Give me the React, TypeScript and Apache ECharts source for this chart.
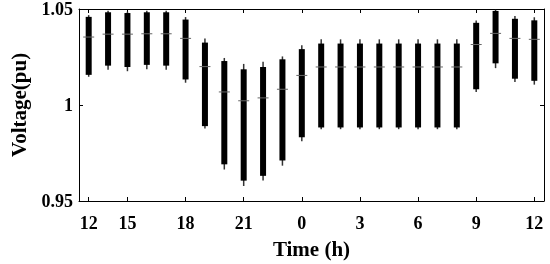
import { useEffect, useRef } from 'react';
import * as echarts from 'echarts';

// 24 time slots; only some slots carry a tick label (as in the reference)
const categories = ['12', '', '15', '', '', '18', '', '', '21', '', '', '0', '', '', '3', '', '', '6', '', '', '9', '', '', '12'];

const whiskerHigh = [1.0468, 1.0491, 1.0486, 1.0491, 1.0491, 1.0458, 1.0346, 1.0245, 1.0214, 1.0225, 1.0253, 1.0311, 1.0342, 1.0342, 1.0342, 1.0342, 1.0342, 1.0342, 1.0342, 1.0342, 1.044, 1.0496, 1.0464, 1.0457];
const boxHigh = [1.0459, 1.0483, 1.0479, 1.0483, 1.0483, 1.0445, 1.0325, 1.0229, 1.0186, 1.0198, 1.0238, 1.0291, 1.032, 1.032, 1.032, 1.032, 1.032, 1.032, 1.032, 1.032, 1.0428, 1.049, 1.0449, 1.0441];
const median = [1.0354, 1.0369, 1.0369, 1.0371, 1.0371, 1.0347, 1.02, 1.0068, 1.0022, 1.0037, 1.0082, 1.0154, 1.0198, 1.0198, 1.0198, 1.0198, 1.0198, 1.0198, 1.0198, 1.0198, 1.0315, 1.0373, 1.0347, 1.0342];
const boxLow = [1.0157, 1.0205, 1.0198, 1.0209, 1.0205, 1.0133, 0.989, 0.9691, 0.9606, 0.9631, 0.9711, 0.9832, 0.9883, 0.9883, 0.9883, 0.9883, 0.9883, 0.9883, 0.9883, 0.9883, 1.0082, 1.0217, 1.0137, 1.0126];
const whiskerLow = [1.0147, 1.0184, 1.0176, 1.0186, 1.0184, 1.0116, 0.9877, 0.9664, 0.9578, 0.9607, 0.9684, 0.9811, 0.9874, 0.9874, 0.9874, 0.9874, 0.9874, 0.9874, 0.9874, 0.9874, 1.0068, 1.0192, 1.012, 1.0106];

const FONT = "'Liberation Serif', 'Times New Roman', serif";

export default function App() {
  const ref = useRef<HTMLDivElement>(null);
  useEffect(() => {
    const chart = echarts.init(ref.current!, null, { renderer: 'svg' });
    const data = categories.map((_, i) => [i, whiskerLow[i], boxLow[i], median[i], boxHigh[i], whiskerHigh[i]]);
    const tickInterval = (_i: number, v: string) => v !== '';
    const axisLine = { show: true, lineStyle: { color: '#000', width: 1 } };
    chart.setOption({
      animation: false,
      grid: { left: 68, right: 6, top: 9, bottom: 60 },
      xAxis: [
        {
          type: 'category',
          data: categories,
          position: 'bottom',
          boundaryGap: true,
          axisLine,
          axisTick: { show: true, inside: true, length: 4, alignWithLabel: true, interval: tickInterval, lineStyle: { color: '#000' } },
          axisLabel: { interval: 0, color: '#000', fontFamily: FONT, fontWeight: 'bold', fontSize: 18, margin: 13 },
          name: 'Time (h)',
          nameLocation: 'middle',
          nameGap: 37,
          nameTextStyle: { color: '#000', fontFamily: FONT, fontWeight: 'bold', fontSize: 21 },
        },
        {
          type: 'category',
          data: categories,
          position: 'top',
          boundaryGap: true,
          axisLine,
          axisTick: { show: true, inside: true, length: 4, alignWithLabel: true, interval: tickInterval, lineStyle: { color: '#000' } },
          axisLabel: { show: false },
        },
      ],
      yAxis: [
        {
          type: 'value',
          min: 0.95,
          max: 1.05,
          interval: 0.05,
          position: 'left',
          splitLine: { show: false },
          axisLine,
          axisTick: { show: true, inside: true, length: 4, lineStyle: { color: '#000' } },
          axisLabel: { color: '#000', fontFamily: FONT, fontWeight: 'bold', fontSize: 18, margin: 6 },
          name: 'Voltage(pu)',
          nameLocation: 'middle',
          nameGap: 50,
          nameTextStyle: { color: '#000', fontFamily: FONT, fontWeight: 'bold', fontSize: 21 },
        },
        {
          type: 'value',
          min: 0.95,
          max: 1.05,
          interval: 0.05,
          position: 'right',
          splitLine: { show: false },
          axisLine,
          axisTick: { show: true, inside: true, length: 4, lineStyle: { color: '#000' } },
          axisLabel: { show: false },
        },
      ],
      series: [
        {
          type: 'custom',
          xAxisIndex: 0,
          yAxisIndex: 0,
          data,
          encode: { x: 0, y: [1, 2, 3, 4, 5] },
          renderItem: (_params: any, api: any) => {
            const i = api.value(0);
            const [x, yWL] = api.coord([i, api.value(1)]);
            const yQ1 = api.coord([i, api.value(2)])[1];
            const yMed = api.coord([i, api.value(3)])[1];
            const yQ3 = api.coord([i, api.value(4)])[1];
            const yWH = api.coord([i, api.value(5)])[1];
            return {
              type: 'group',
              children: [
                { type: 'line', shape: { x1: x, y1: yWH, x2: x, y2: yWL }, style: { stroke: '#333', lineWidth: 1.5 } },
                { type: 'rect', shape: { x: x - 3, y: yQ3, width: 6, height: yQ1 - yQ3 }, style: { fill: '#000' } },
                { type: 'line', shape: { x1: x - 5.5, y1: yMed, x2: x + 5.5, y2: yMed }, style: { stroke: '#666', lineWidth: 1 } },
              ],
            };
          },
        },
      ],
    });
    return () => chart.dispose();
  }, []);
  return <div ref={ref} style={{ position: 'fixed', left: 0, top: 0, width: 550, height: 264 }} />;
}
